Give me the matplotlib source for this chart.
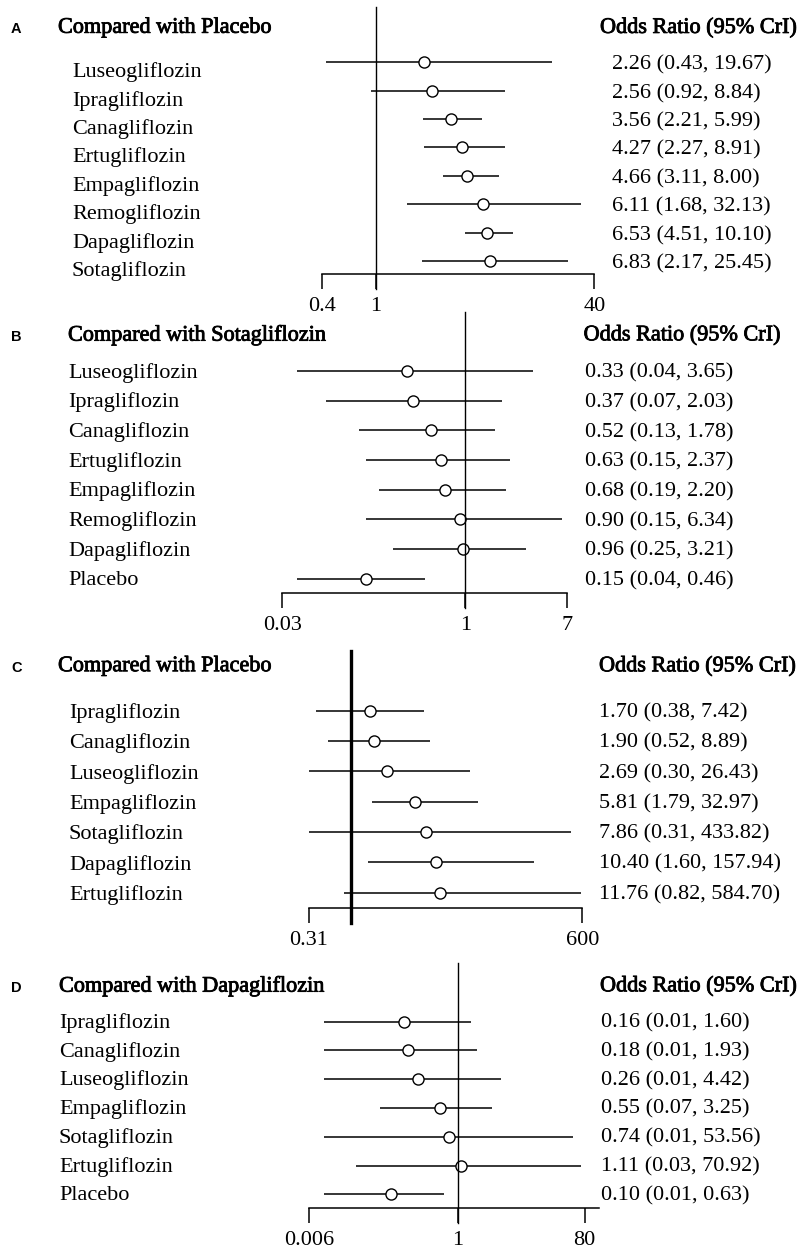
import matplotlib
matplotlib.use('Agg')
import matplotlib.pyplot as plt
import matplotlib.patheffects as pe
from matplotlib.transforms import blended_transform_factory, ScaledTranslation
from matplotlib.ticker import NullLocator

# Panel A: compared with placebo
a_names = ['Luseogliflozin', 'Ipragliflozin', 'Canagliflozin', 'Ertugliflozin',
           'Empagliflozin', 'Remogliflozin', 'Dapagliflozin', 'Sotagliflozin']
a_or = [2.26, 2.56, 3.56, 4.27, 4.66, 6.11, 6.53, 6.83]
a_lo = [0.43, 0.92, 2.21, 2.27, 3.11, 1.68, 4.51, 2.17]
a_hi = [19.67, 8.84, 5.99, 8.91, 8.00, 32.13, 10.10, 25.45]
a_ticks = [0.4, 1, 40]
a_ticklabels = ['0.4', '1', '40']

# Panel B: compared with sotagliflozin
b_names = ['Luseogliflozin', 'Ipragliflozin', 'Canagliflozin', 'Ertugliflozin',
           'Empagliflozin', 'Remogliflozin', 'Dapagliflozin', 'Placebo']
b_or = [0.33, 0.37, 0.52, 0.63, 0.68, 0.90, 0.96, 0.15]
b_lo = [0.04, 0.07, 0.13, 0.15, 0.19, 0.15, 0.25, 0.04]
b_hi = [3.65, 2.03, 1.78, 2.37, 2.20, 6.34, 3.21, 0.46]
b_ticks = [0.03, 1, 7]
b_ticklabels = ['0.03', '1', '7']

# Panel C: compared with placebo
c_names = ['Ipragliflozin', 'Canagliflozin', 'Luseogliflozin', 'Empagliflozin',
           'Sotagliflozin', 'Dapagliflozin', 'Ertugliflozin']
c_or = [1.70, 1.90, 2.69, 5.81, 7.86, 10.40, 11.76]
c_lo = [0.38, 0.52, 0.30, 1.79, 0.31, 1.60, 0.82]
c_hi = [7.42, 8.89, 26.43, 32.97, 433.82, 157.94, 584.70]
c_ticks = [0.31, 600]
c_ticklabels = ['0.31', '600']

# Panel D: compared with dapagliflozin
d_names = ['Ipragliflozin', 'Canagliflozin', 'Luseogliflozin', 'Empagliflozin',
           'Sotagliflozin', 'Ertugliflozin', 'Placebo']
d_or = [0.16, 0.18, 0.26, 0.55, 0.74, 1.11, 0.10]
d_lo = [0.01, 0.01, 0.01, 0.07, 0.01, 0.03, 0.01]
d_hi = [1.60, 1.93, 4.42, 3.25, 53.56, 70.92, 0.63]
d_ticks = [0.006, 1, 80]
d_ticklabels = ['0.006', '1', '80']

W, H = 804, 1245
plt.rcParams['font.family'] = ['Liberation Serif', 'DejaVu Serif']
FS = 16

fig = plt.figure(figsize=(W / 100, H / 100), dpi=100)
bold_fx = [pe.withStroke(linewidth=0.6, foreground='black')]


def fmt(o, l, h):
    return f'{o:.2f} ({l:.2f}, {h:.2f})'


def panel(letter, title, names, ors, los, his, ticks, ticklabels, xlim,
          x0, x1, row0, step, axis_y, top_y,
          title_x, title_y, name_x, name_dy, val_x, val_dy, head_x, vline_lw=1.0):
    n = len(names)
    # axes placed in pixel terms; rows are data y = 0..n-1 from the top
    ax = fig.add_axes([x0 / W, 1 - axis_y / H, (x1 - x0) / W, (axis_y - top_y) / H])
    ax.set_xscale('log')
    ax.set_xlim(*xlim)
    ax.set_ylim((axis_y - row0) / step, (top_y - row0) / step)
    rows = list(range(n))

    ax.hlines(rows, los, his, color='black', lw=1.1)
    ax.plot(ors, rows, 'o', ms=8, mfc='white', mec='black', mew=1.0, ls='none')

    # reference line at OR = 1, running down to the tick ends
    tick_px = 15
    ax.axvline(1, ymin=-tick_px / (axis_y - top_y), ymax=1, color='black',
               lw=vline_lw, clip_on=False)

    for s in ['top', 'left', 'right']:
        ax.spines[s].set_visible(False)
    ax.spines['bottom'].set_linewidth(1.1)
    ax.set_xticks(ticks, ticklabels)
    ax.xaxis.set_minor_locator(NullLocator())
    ax.set_yticks([])
    ax.tick_params(axis='x', direction='out', length=tick_px * 0.72, width=1.1,
                   pad=5.5, labelsize=FS)
    ax.patch.set_alpha(0)

    # row labels and values, pinned to the data rows
    tr = blended_transform_factory(fig.transFigure, ax.transData)
    for i in rows:
        ax.text(name_x / W, i, names[i], transform=tr + ScaledTranslation(0, -name_dy / 100, fig.dpi_scale_trans),
                ha='left', va='center', fontsize=FS)
        ax.text(val_x / W, i, fmt(ors[i], los[i], his[i]),
                transform=tr + ScaledTranslation(0, -val_dy / 100, fig.dpi_scale_trans),
                ha='left', va='center', fontsize=FS)

    fig.text(title_x / W, 1 - title_y / H, title, ha='left', va='center',
             fontsize=FS, path_effects=bold_fx)
    fig.text(head_x / W, 1 - title_y / H, 'Odds Ratio (95% CrI)', ha='left', va='center',
             fontsize=FS, path_effects=bold_fx)
    fig.text(11 / W, 1 - (title_y + 1) / H, letter, ha='left', va='center',
             fontsize=10.5, fontweight='bold', family='Liberation Sans')
    return ax


panel('A', 'Compared with Placebo', a_names, a_or, a_lo, a_hi, a_ticks, a_ticklabels,
      (0.4, 40), 321.7, 594.3, 62.3, 28.4, 274.3, 7,
      58, 28.3, 72, 10, 612, 2.7, 600)
panel('B', 'Compared with Sotagliflozin', b_names, b_or, b_lo, b_hi, b_ticks, b_ticklabels,
      (0.03, 7), 282.3, 566.7, 371, 29.67, 593.3, 311.7,
      68, 335.7, 68, 1.7, 584.6, 2.3, 583.6)
panel('C', 'Compared with Placebo', c_names, c_or, c_lo, c_hi, c_ticks, c_ticklabels,
      (0.31, 600), 309, 582.3, 710.7, 30.33, 908.3, 651,
      58, 666.7, 69, 2.3, 599, 2, 599, vline_lw=2.4)
panel('D', 'Compared with Dapagliflozin', d_names, d_or, d_lo, d_hi, d_ticks, d_ticklabels,
      (0.006, 130), 309.1, 598.7, 1021.7, 28.77, 1208.3, 963.3,
      59, 986.7, 59, 1.3, 601, 1.3, 600)

fig.savefig('out.png', dpi=100, facecolor='white')
